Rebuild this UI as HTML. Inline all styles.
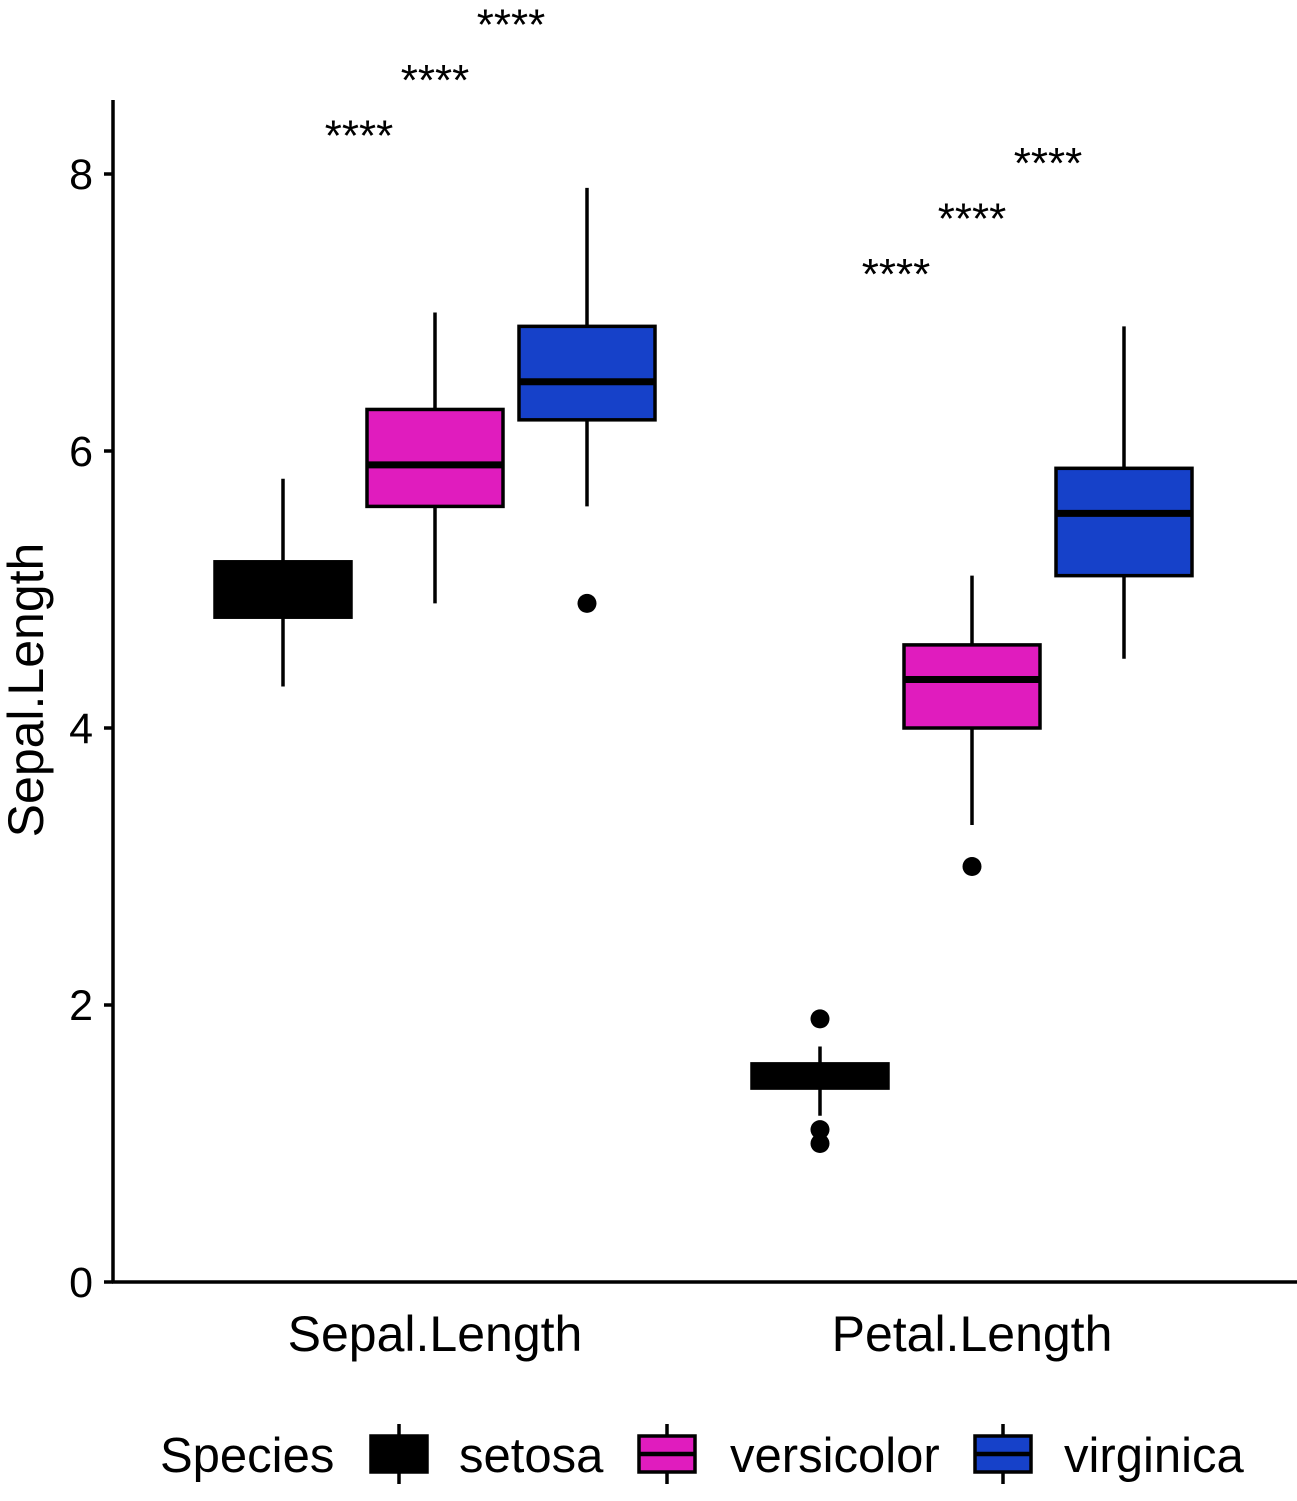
<!DOCTYPE html>
<html><head><meta charset="utf-8"><style>
body{margin:0;background:#fff}
svg text{font-family:"Liberation Sans",Arial,sans-serif;fill:#000}
</style></head><body>
<svg id="chart" width="1297" height="1496" viewBox="0 0 1297 1496" xmlns="http://www.w3.org/2000/svg">
<g id="plot"></g>
</svg>
<script>
const groups=["Sepal.Length","Petal.Length"];
const species=["setosa","versicolor","virginica"];
const colors=["#000000","#E01CBE","#1641C9"];
const q1=[[4.8,5.6,6.225],[1.4,4.0,5.1]];
const med=[[5.0,5.9,6.5],[1.5,4.35,5.55]];
const q3=[[5.2,6.3,6.9],[1.575,4.6,5.875]];
const wLo=[[4.3,4.9,5.6],[1.2,3.3,4.5]];
const wHi=[[5.8,7.0,7.9],[1.7,5.1,6.9]];
const outliers=[[[],[],[4.9]],[[1.9,1.1,1.0],[3.0],[]]];
const yTicks=[0,2,4,6,8];
const sigLabels=[["****","****","****"],["****","****","****"]];
const sigY=[[8.3,8.7,9.1],[7.3,7.7,8.1]];
const y=v=>1282-v*138.5;
const xc=[435,972];
const dodge=152, bw=136;
const NS="http://www.w3.org/2000/svg";
const g=document.getElementById('plot');
function mk(t,a,txt){const e=document.createElementNS(NS,t);for(const k in a)e.setAttribute(k,a[k]);if(txt!==undefined)e.textContent=txt;g.appendChild(e);return e;}
let e;
e=mk('line',{x1:113,y1:100,x2:113,y2:1283,stroke:'#000','stroke-width':3.5});


e=mk('line',{x1:112,y1:1282,x2:1297,y2:1282,stroke:'#000','stroke-width':3.5});


yTicks.forEach(t=>{
 e=mk('line',{x1:104,y1:y(t),x2:113,y2:y(t),stroke:'#000','stroke-width':3.5});
 
 
 e=mk('text',{x:93,y:y(t)+15,'text-anchor':'end','font-size':43},String(t));
 
 
});
e=mk('text',{x:0,y:0,'font-size':50,'text-anchor':'middle',transform:'translate(43,690) rotate(-90)'},'Sepal.Length');


groups.forEach((gname,gi)=>{
 e=mk('text',{x:xc[gi],y:1351,'font-size':50,'text-anchor':'middle'},gname);
 
 
 species.forEach((s,si)=>{
  const cx=xc[gi]+(si-1)*dodge;
  e=mk('line',{x1:cx,y1:y(wHi[gi][si]),x2:cx,y2:y(wLo[gi][si]),stroke:'#000','stroke-width':3.5});
  
  
  e=mk('rect',{x:cx-bw/2,y:y(q3[gi][si]),width:bw,height:y(q1[gi][si])-y(q3[gi][si]),fill:colors[si],stroke:'#000','stroke-width':3.5});
  
  
  e=mk('line',{x1:cx-bw/2,y1:y(med[gi][si]),x2:cx+bw/2,y2:y(med[gi][si]),stroke:'#000','stroke-width':7});
  
  
  outliers[gi][si].forEach(o=>{
   e=mk('circle',{cx:cx,cy:y(o),r:9.5,fill:'#000'});
   
   
  });
  e=mk('text',{x:xc[gi]+(si-1)*76,y:y(sigY[gi][si])+18,'font-size':44,'text-anchor':'middle'},sigLabels[gi][si]);
  
  
 });
});
e=mk('text',{x:160,y:1472,'font-size':49},'Species');


const lx=[399,667,1003], tx=[459,730,1064];
species.forEach((s,si)=>{
 e=mk('line',{x1:lx[si],y1:1424,x2:lx[si],y2:1484,stroke:'#000','stroke-width':3.5});
 
 
 e=mk('rect',{x:lx[si]-28,y:1436,width:56,height:36,fill:colors[si],stroke:'#000','stroke-width':3.5});
 
 
 e=mk('line',{x1:lx[si]-28,y1:1454,x2:lx[si]+28,y2:1454,stroke:'#000','stroke-width':4.5});
 
 
 e=mk('text',{x:tx[si],y:1472,'font-size':49},s);
 
 
});
</script>
</body></html>
